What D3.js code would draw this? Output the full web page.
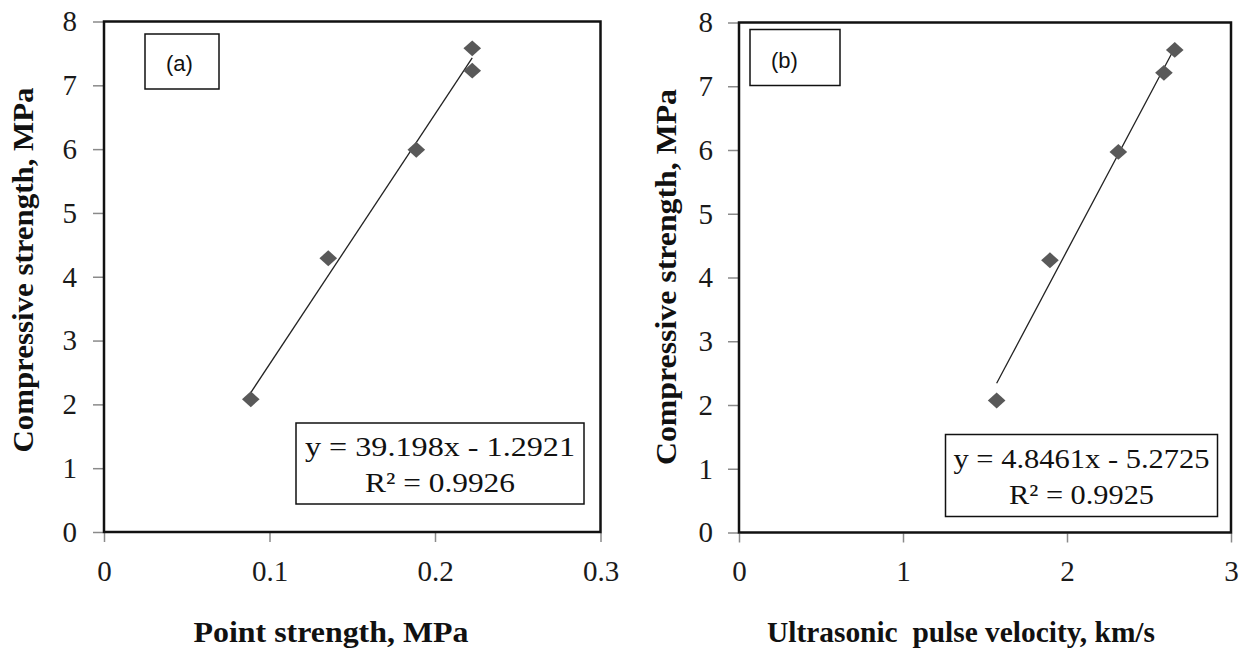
<!DOCTYPE html>
<html>
<head>
<meta charset="utf-8">
<script src="https://cdn.jsdelivr.net/npm/d3@7"></script>
<style>
  body { margin: 0; background: #fff; }
  svg { display: block; }
  .tick text { font-family: "Liberation Serif", "Times New Roman", serif; font-size: 29px; fill: #1a1a1a; }
  .tick line { stroke: #8a8a8a; stroke-width: 1.5px; }
  .domain { display: none; }
  .atitle { font-family: "Liberation Serif", "Times New Roman", serif; font-weight: bold; font-size: 30px; fill: #111; white-space: pre; }
  .eq { font-family: "Liberation Serif", "Times New Roman", serif; font-size: 28px; fill: #111; }
  .tag { font-family: "Liberation Sans", Arial, sans-serif; font-size: 22px; fill: #111; }
</style>
</head>
<body>
<div id="chart"></div>
<script>
var svgWidth = 1241;
var svgHeight = 653;

// panel (a): point load strength vs compressive strength
var pointStrength = [0.0887, 0.1355, 0.1887, 0.2225, 0.2225];
var compStrengthA = [2.08, 4.29, 5.99, 7.23, 7.58];
var fitA = [39.198, -1.2921];
var eqA = ["y = 39.198x - 1.2921", "R² = 0.9926"];
var xTicksA = [0, 0.1, 0.2, 0.3];

// panel (b): ultrasonic pulse velocity vs compressive strength
var pulseVelocity = [1.571, 1.896, 2.313, 2.591, 2.657];
var compStrengthB = [2.07, 4.27, 5.97, 7.21, 7.57];
var fitB = [4.8461, -5.2725];
var eqB = ["y = 4.8461x - 5.2725", "R² = 0.9925"];
var xTicksB = [0, 1, 2, 3];

var yTicks = [0, 1, 2, 3, 4, 5, 6, 7, 8];

var svg = d3.select("#chart")
  .append("svg")
  .attr("width", svgWidth)
  .attr("height", svgHeight);

function drawPanel(p) {
  var xScale = d3.scaleLinear().domain(p.xDomain).range([p.left, p.right]);
  var yScale = d3.scaleLinear().domain([0, 8]).range([p.bottom, p.top]);

  var g = svg.append("g");

  // y axis
  g.append("g")
    .attr("transform", `translate(${p.left - 1}, 0)`)
    .call(d3.axisLeft(yScale).tickValues(yTicks).tickSize(10).tickPadding(p.yPad).tickFormat(d3.format("d")));

  // x axis
  g.append("g")
    .attr("transform", `translate(0, ${p.bottom + 1})`)
    .call(d3.axisBottom(xScale).tickValues(p.xTicks).tickSize(9).tickPadding(18).tickFormat(d => String(d)));

  // plot area frame
  g.append("rect")
    .attr("x", p.left)
    .attr("y", p.top)
    .attr("width", p.right - p.left)
    .attr("height", p.bottom - p.top)
    .attr("fill", "none")
    .attr("stroke", "#111")
    .attr("stroke-width", 2.5);

  // linear trendline over the data range
  var x0 = d3.min(p.xs), x1 = d3.max(p.xs);
  g.append("line")
    .attr("x1", xScale(x0))
    .attr("y1", yScale(p.fit[0] * x0 + p.fit[1]))
    .attr("x2", xScale(x1))
    .attr("y2", yScale(p.fit[0] * x1 + p.fit[1]))
    .attr("stroke", "#222")
    .attr("stroke-width", 1.3);

  // diamond markers
  var diamond = d3.symbol().type(d3.symbolDiamond2).size(170);
  g.selectAll("path.pt")
    .data(p.xs.map((x, i) => [x, p.ys[i]]))
    .enter()
    .append("path")
    .attr("class", "pt")
    .attr("d", diamond)
    .attr("transform", d => `translate(${xScale(d[0])}, ${yScale(d[1])}) scale(1.08, 0.97)`)
    .attr("fill", "#595959");

  // panel tag box
  g.append("rect")
    .attr("x", p.tagBox[0]).attr("y", p.tagBox[1])
    .attr("width", p.tagBox[2]).attr("height", p.tagBox[3])
    .attr("fill", "#fff").attr("stroke", "#111").attr("stroke-width", 1.5);
  g.append("text")
    .attr("class", "tag")
    .attr("x", p.tagText[0])
    .attr("y", p.tagText[1])
    .text(p.tag);

  // equation box
  g.append("rect")
    .attr("x", p.eqBox[0]).attr("y", p.eqBox[1])
    .attr("width", p.eqBox[2]).attr("height", p.eqBox[3])
    .attr("fill", "#fff").attr("stroke", "#111").attr("stroke-width", 1.5);
  g.selectAll("text.eq")
    .data(p.eq)
    .enter()
    .append("text")
    .attr("class", "eq")
    .attr("x", p.eqBox[0] + p.eqBox[2] / 2)
    .attr("y", (d, i) => p.eqBox[1] + 33 + i * 36)
    .attr("text-anchor", "middle")
    .attr("textLength", (d, i) => p.eqLen[i])
    .attr("lengthAdjust", "spacingAndGlyphs")
    .text(d => d);

  // axis titles
  g.append("text")
    .attr("class", "atitle")
    .attr("transform", `translate(${p.yTitleX}, ${p.yTitleY}) rotate(-90)`)
    .attr("text-anchor", "middle")
    .attr("textLength", p.yTitleLen)
    .attr("lengthAdjust", "spacingAndGlyphs")
    .text("Compressive strength, MPa");

  g.append("text")
    .attr("class", "atitle")
    .attr("x", p.xTitleX)
    .attr("y", 642)
    .attr("text-anchor", "middle")
    .attr("textLength", p.xTitleLen)
    .attr("lengthAdjust", "spacingAndGlyphs")
    .text(p.xTitle);
}

drawPanel({
  xs: pointStrength, ys: compStrengthA, fit: fitA, eq: eqA, eqLen: [270, 150],
  xDomain: [0, 0.3], xTicks: xTicksA,
  left: 104, right: 600.5, top: 21.5, bottom: 532, yPad: 16,
  tag: "(a)", tagBox: [145, 34, 74, 55], tagText: [166, 71],
  eqBox: [296, 423, 288, 81],
  yTitleX: 33, yTitleY: 270, yTitleLen: 365,
  xTitle: "Point strength, MPa", xTitleX: 331, xTitleLen: 275
});

drawPanel({
  xs: pulseVelocity, ys: compStrengthB, fit: fitB, eq: eqB, eqLen: [256, 145],
  xDomain: [0, 3], xTicks: xTicksB,
  left: 739, right: 1231, top: 22.5, bottom: 532.5, yPad: 15,
  tag: "(b)", tagBox: [750, 29.5, 90, 56], tagText: [771, 68],
  eqBox: [945.5, 434.5, 272, 82],
  yTitleX: 676, yTitleY: 277, yTitleLen: 376,
  xTitle: "Ultrasonic  pulse velocity, km/s", xTitleX: 961, xTitleLen: 388
});
</script>
</body>
</html>
